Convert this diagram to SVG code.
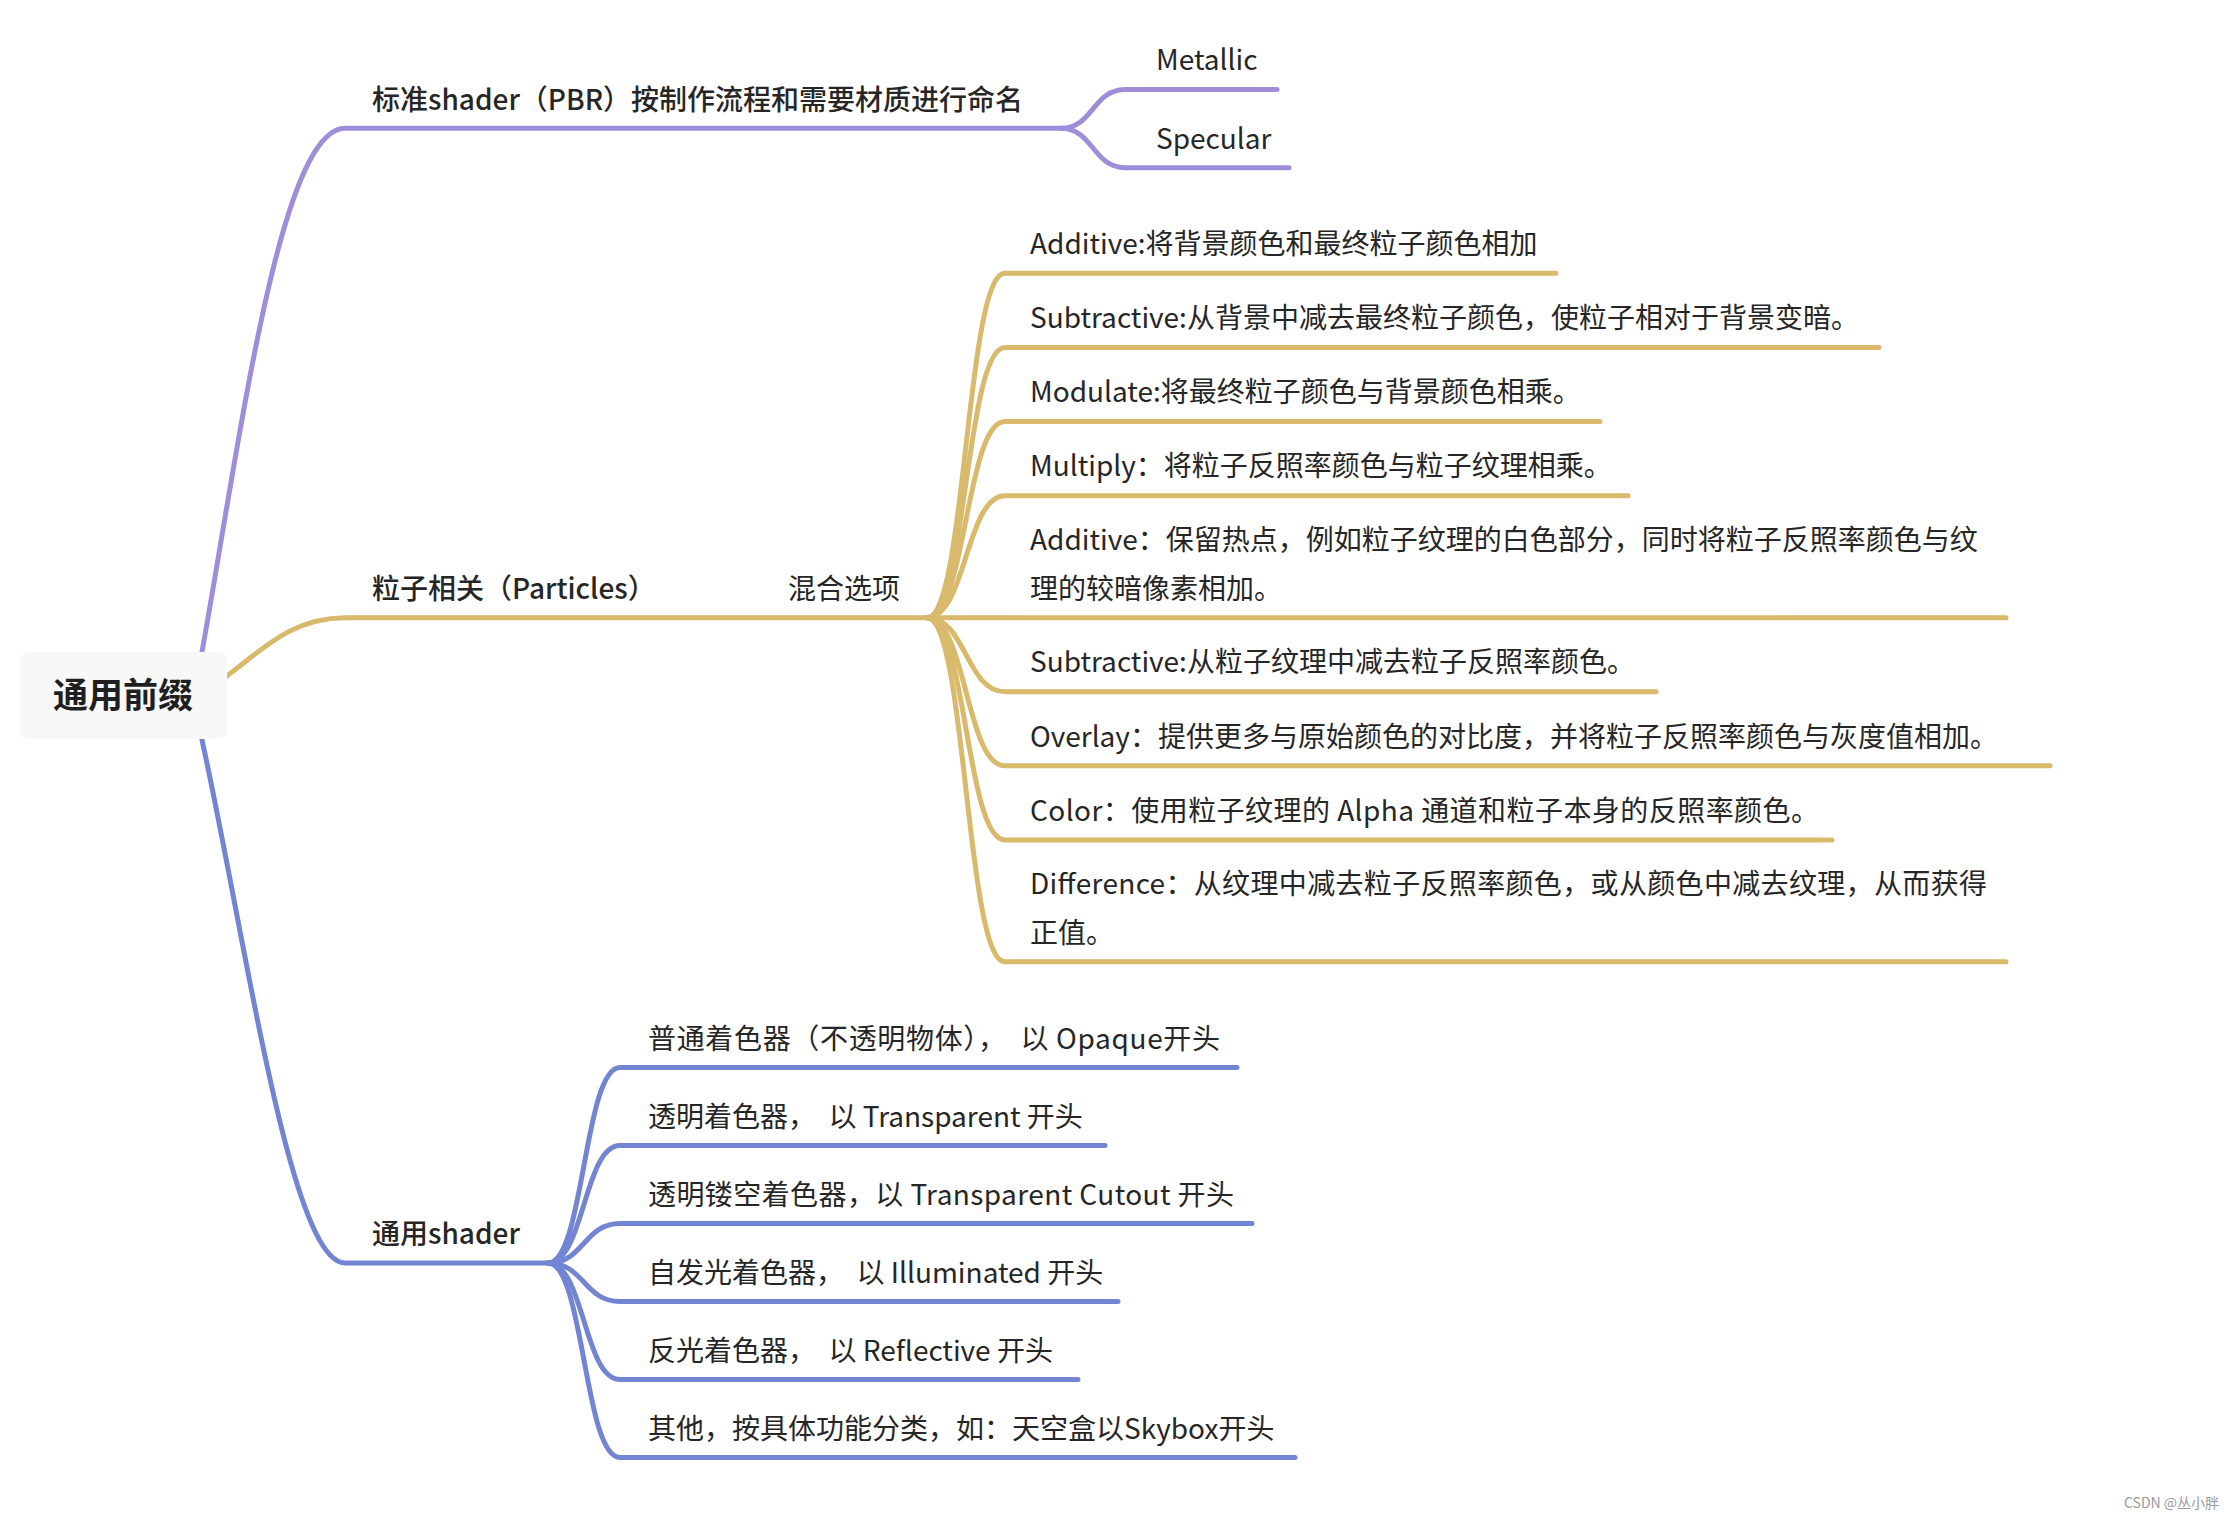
<svg xmlns="http://www.w3.org/2000/svg" width="2238" height="1522" viewBox="0 0 2238 1522">
<style>
  text { font-family: "Noto Sans CJK SC", "Noto Sans", sans-serif; fill: #262626; font-size: 28px; white-space: pre; }
  .l1 { font-weight: 500; }
  .root { font-size: 35px; font-weight: 700; fill: #1f1f1f; }
  .wm { font-size: 14px; fill: #9a9a9a; }
  .c { fill: none; stroke-width: 5; stroke-linecap: round; stroke-linejoin: round; }
  .p { stroke: #9f8dd9; }
  .y { stroke: #d9b96b; }
  .b { stroke: #7384d2; }
</style>
<rect width="2238" height="1522" fill="#ffffff"/>
<g id="connectors">
  <path class="c p" d="M 202 652 C 240 440, 280 128.3, 345 128.3 L 1061 128.3"/>
  <path class="c p" d="M 1061 128.3 C 1093 128.3, 1093 89.5, 1125 89.5 L 1277 89.5"/>
  <path class="c p" d="M 1061 128.3 C 1093 128.3, 1093 167.7, 1125 167.7 L 1289 167.7"/>
  <path class="c y" d="M 224 678 C 260 652, 290 617.7, 345 617.7 L 927 617.7"/>
  <path class="c y" d="M 927 617.7 C 966 617.7, 966 273.3, 1005 273.3 L 1556 273.3"/>
  <path class="c y" d="M 927 617.7 C 966 617.7, 966 347.5, 1005 347.5 L 1879 347.5"/>
  <path class="c y" d="M 927 617.7 C 966 617.7, 966 421.6, 1005 421.6 L 1600 421.6"/>
  <path class="c y" d="M 927 617.7 C 966 617.7, 966 495.7, 1005 495.7 L 1628 495.7"/>
  <path class="c y" d="M 927 617.7 L 2006 617.7"/>
  <path class="c y" d="M 927 617.7 C 966 617.7, 966 691.7, 1005 691.7 L 1656 691.7"/>
  <path class="c y" d="M 927 617.7 C 966 617.7, 966 765.8, 1005 765.8 L 2050 765.8"/>
  <path class="c y" d="M 927 617.7 C 966 617.7, 966 839.9, 1005 839.9 L 1832 839.9"/>
  <path class="c y" d="M 927 617.7 C 966 617.7, 966 961.8, 1005 961.8 L 2006 961.8"/>
  <path class="c b" d="M 202 740 C 245 935, 290 1263, 345 1263 L 548 1263"/>
  <path class="c b" d="M 548 1263 C 584 1263, 584 1067.5, 620 1067.5 L 1237 1067.5"/>
  <path class="c b" d="M 548 1263 C 584 1263, 584 1145.5, 620 1145.5 L 1105 1145.5"/>
  <path class="c b" d="M 548 1263 C 584 1263, 584 1223.5, 620 1223.5 L 1252 1223.5"/>
  <path class="c b" d="M 548 1263 C 584 1263, 584 1301.5, 620 1301.5 L 1118 1301.5"/>
  <path class="c b" d="M 548 1263 C 584 1263, 584 1379.5, 620 1379.5 L 1078 1379.5"/>
  <path class="c b" d="M 548 1263 C 584 1263, 584 1457.5, 620 1457.5 L 1295 1457.5"/>
</g>
<g id="root">
  <rect x="20" y="652" width="207" height="87" rx="9" fill="#f8f8f8"/>
  <text class="root" x="123" y="708" text-anchor="middle">通用前缀</text>
</g>
<g id="pbr"><text class="l1" x="372" y="110">标准shader（PBR）按制作流程和需要材质进行命名</text></g>
<g id="metallic"><text x="1156" y="70">Metallic</text></g>
<g id="specular"><text x="1156" y="148.5">Specular</text></g>
<g id="particles"><text class="l1" x="372" y="599">粒子相关（Particles）</text></g>
<g id="blend"><text x="788" y="599">混合选项</text></g>
<g id="b1"><text x="1030" y="254">Additive:将背景颜色和最终粒子颜色相加</text></g>
<g id="b2"><text x="1030" y="328.2">Subtractive:从背景中减去最终粒子颜色，使粒子相对于背景变暗。</text></g>
<g id="b3"><text x="1030" y="402.3">Modulate:将最终粒子颜色与背景颜色相乘。</text></g>
<g id="b4"><text x="1030" y="476.4">Multiply：将粒子反照率颜色与粒子纹理相乘。</text></g>
<g id="b5"><text x="1030" y="550.2">Additive：保留热点，例如粒子纹理的白色部分，同时将粒子反照率颜色与纹</text><text x="1030" y="598.7">理的较暗像素相加。</text></g>
<g id="b6"><text x="1030" y="672.4">Subtractive:从粒子纹理中减去粒子反照率颜色。</text></g>
<g id="b7"><text x="1030" y="746.5">Overlay：提供更多与原始颜色的对比度，并将粒子反照率颜色与灰度值相加。</text></g>
<g id="b8"><text x="1030" y="820.6" textLength="789" lengthAdjust="spacing">Color：使用粒子纹理的 Alpha 通道和粒子本身的反照率颜色。</text></g>
<g id="b9"><text x="1030" y="894.2" textLength="957" lengthAdjust="spacing">Difference：从纹理中减去粒子反照率颜色，或从颜色中减去纹理，从而获得</text><text x="1030" y="942.7">正值。</text></g>
<g id="general"><text class="l1" x="372" y="1244">通用shader</text></g>
<g id="s1"><text x="648" y="1048.5" textLength="572" lengthAdjust="spacing">普通着色器（不透明物体），  以 Opaque开头</text></g>
<g id="s2"><text x="648" y="1126.5">透明着色器，  以 Transparent 开头</text></g>
<g id="s3"><text x="648" y="1204.5" textLength="586" lengthAdjust="spacing">透明镂空着色器，以 Transparent Cutout 开头</text></g>
<g id="s4"><text x="648" y="1282.5">自发光着色器，  以 Illuminated 开头</text></g>
<g id="s5"><text x="648" y="1360.5">反光着色器，  以 Reflective 开头</text></g>
<g id="s6"><text x="648" y="1438.5">其他，按具体功能分类，如：天空盒以Skybox开头</text></g>
<text class="wm" x="2124" y="1508">CSDN @丛小胖</text>
</svg>
